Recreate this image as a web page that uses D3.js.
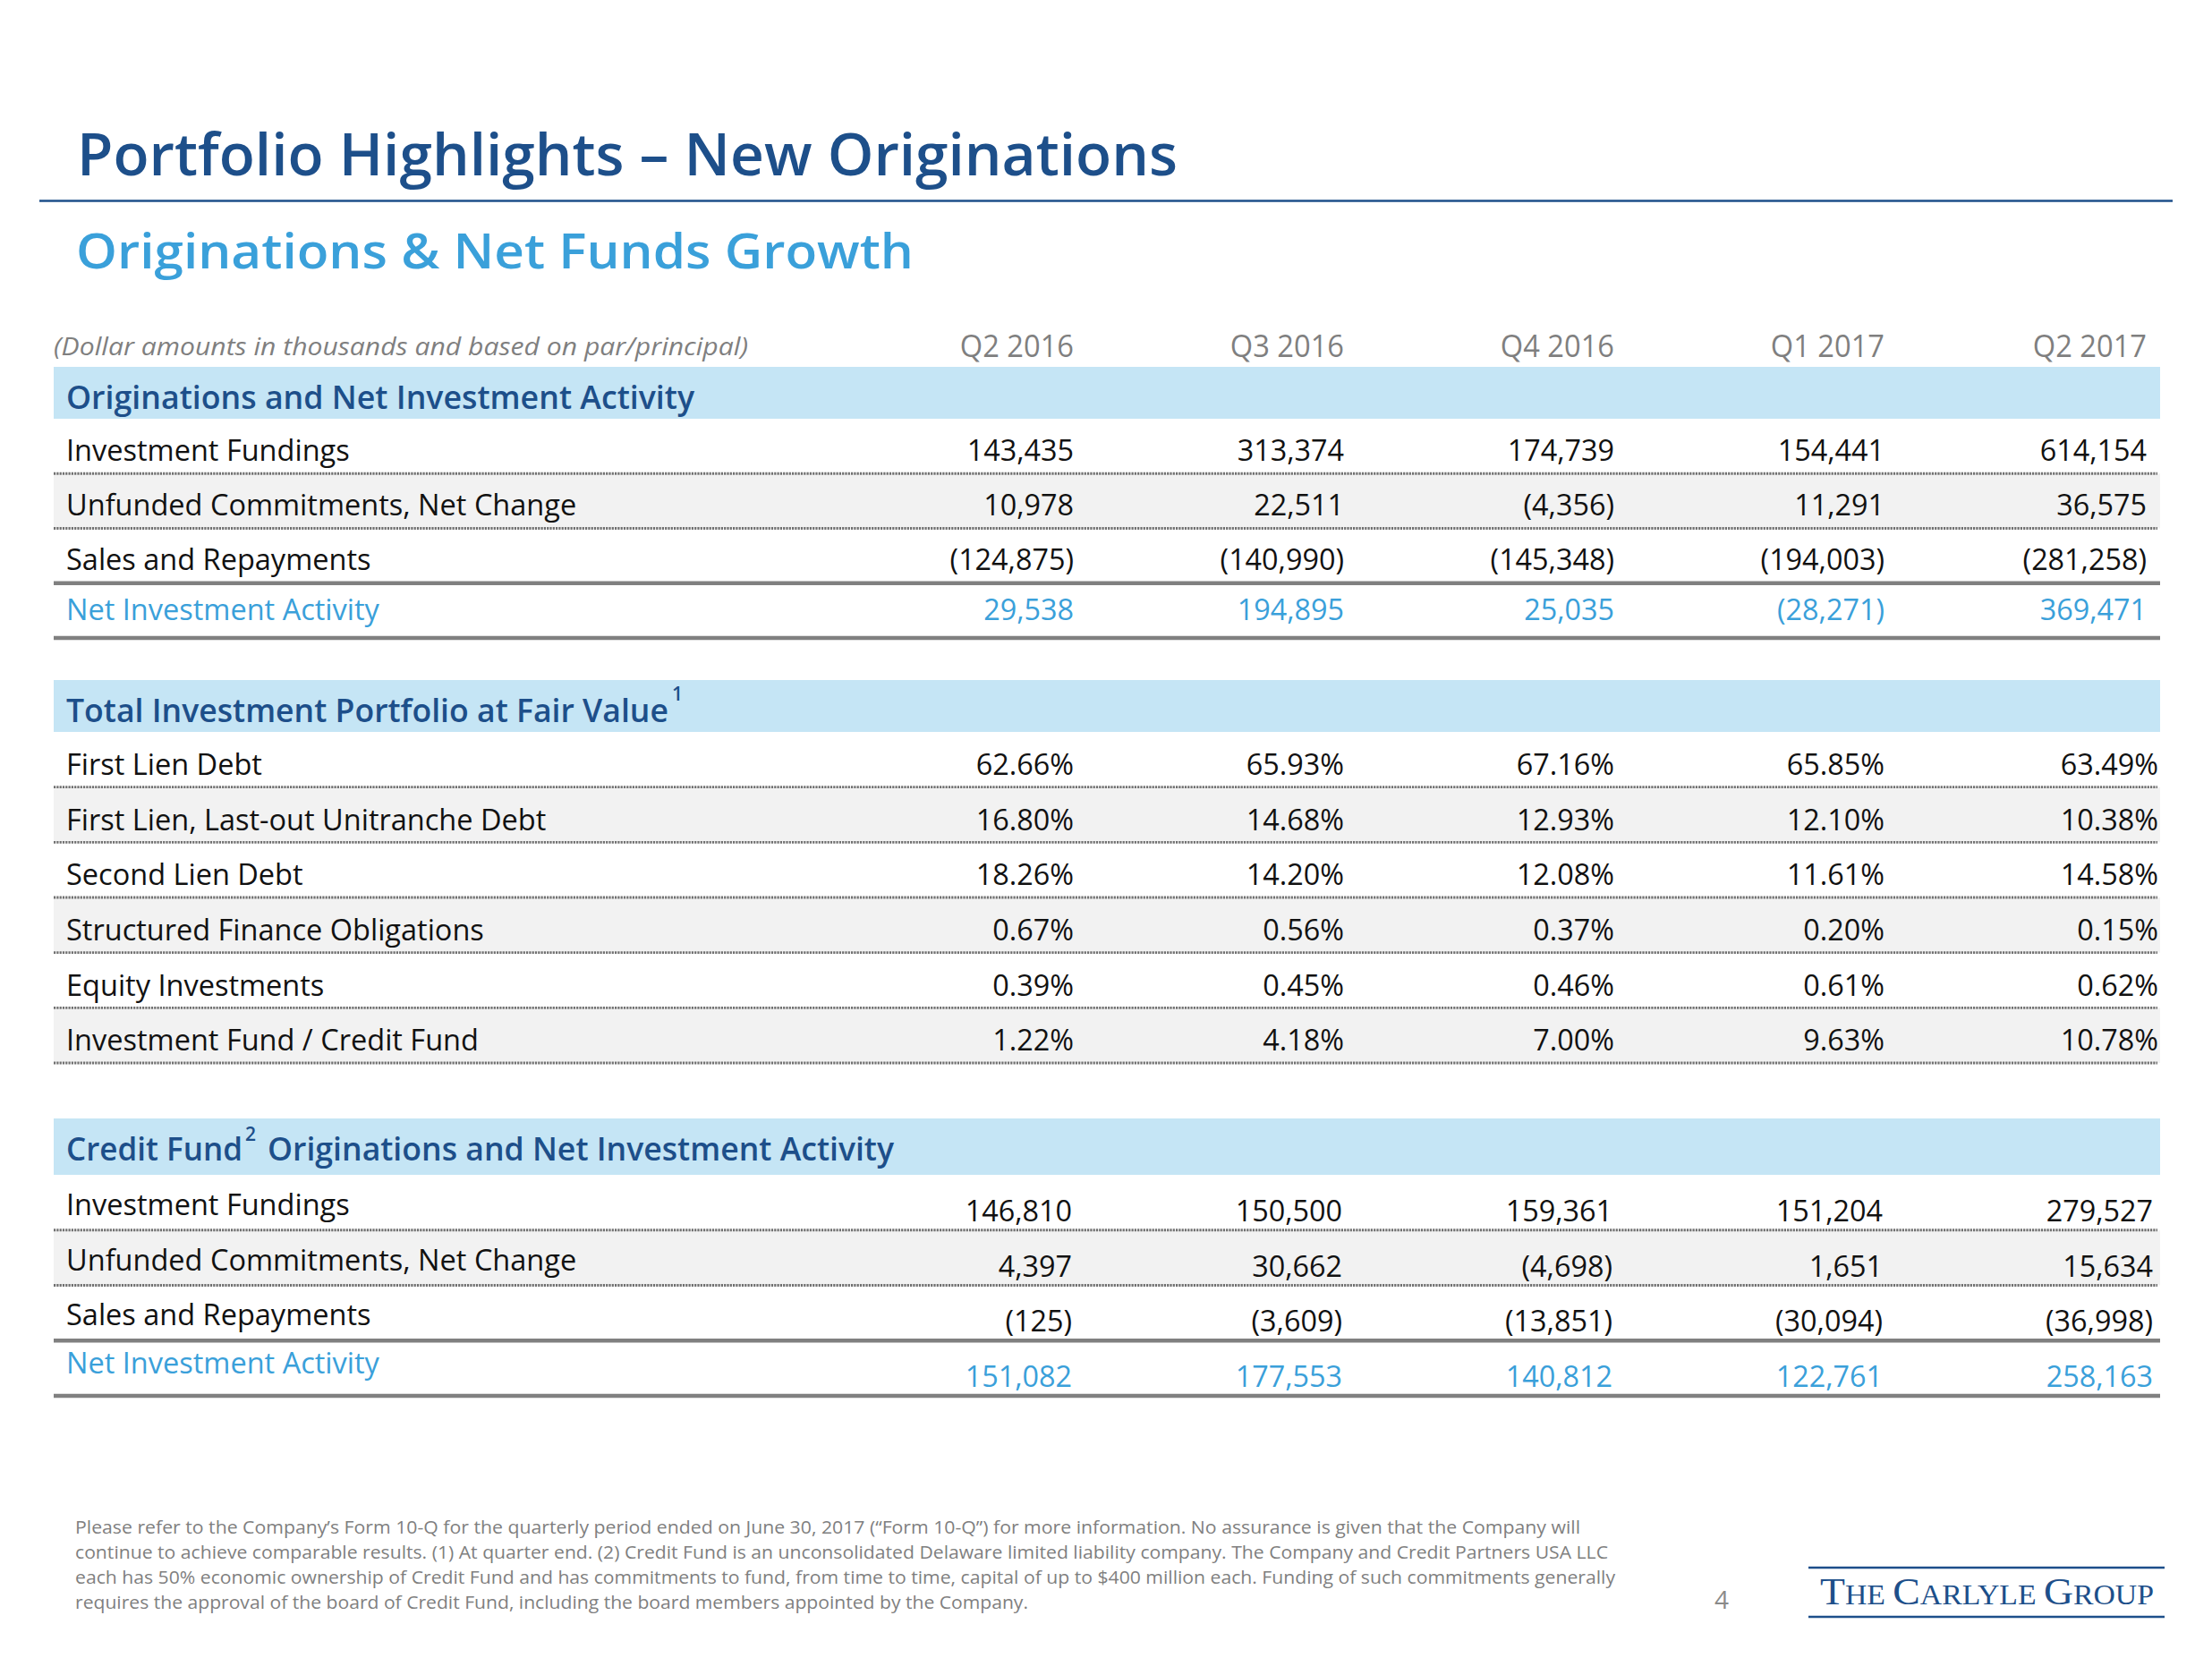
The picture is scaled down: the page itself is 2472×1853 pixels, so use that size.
<!DOCTYPE html>
<html>
<head>
<meta charset="utf-8">
<script src="https://cdn.jsdelivr.net/npm/d3@7"></script>
<style>
  html, body { margin: 0; padding: 0; background: #ffffff; }
  svg { display: block; }
</style>
</head>
<body>
<script>
// ---------------- DATA ----------------
const quarters = ["Q2 2016", "Q3 2016", "Q4 2016", "Q1 2017", "Q2 2017"];

const originationLabels = ["Investment Fundings", "Unfunded Commitments, Net Change", "Sales and Repayments", "Net Investment Activity"];
const investmentFundings = [143435, 313374, 174739, 154441, 614154];
const unfundedCommitments = [10978, 22511, -4356, 11291, 36575];
const salesAndRepayments = [-124875, -140990, -145348, -194003, -281258];
const netInvestmentActivity = [29538, 194895, 25035, -28271, 369471];

const portfolioLabels = ["First Lien Debt", "First Lien, Last-out Unitranche Debt", "Second Lien Debt", "Structured Finance Obligations", "Equity Investments", "Investment Fund / Credit Fund"];
const firstLienDebt = [62.66, 65.93, 67.16, 65.85, 63.49];
const lastOutUnitrancheDebt = [16.80, 14.68, 12.93, 12.10, 10.38];
const secondLienDebt = [18.26, 14.20, 12.08, 11.61, 14.58];
const structuredFinance = [0.67, 0.56, 0.37, 0.20, 0.15];
const equityInvestments = [0.39, 0.45, 0.46, 0.61, 0.62];
const investmentFundCreditFund = [1.22, 4.18, 7.00, 9.63, 10.78];

const creditFundLabels = ["Investment Fundings", "Unfunded Commitments, Net Change", "Sales and Repayments", "Net Investment Activity"];
const cfInvestmentFundings = [146810, 150500, 159361, 151204, 279527];
const cfUnfundedCommitments = [4397, 30662, -4698, 1651, 15634];
const cfSalesAndRepayments = [-125, -3609, -13851, -30094, -36998];
const cfNetInvestmentActivity = [151082, 177553, 140812, 122761, 258163];

const titleText = "Portfolio Highlights \u2013 New Originations";
const subtitleText = "Originations & Net Funds Growth";
const unitsNote = "(Dollar amounts in thousands and based on par/principal)";
const footnoteLines = [
  "Please refer to the Company\u2019s Form 10-Q for the quarterly period ended on June 30, 2017 (\u201cForm 10-Q\u201d) for more information. No assurance is given that the Company will",
  "continue to achieve comparable results. (1) At quarter end. (2) Credit Fund is an unconsolidated Delaware limited liability company. The Company and Credit Partners USA LLC",
  "each has 50% economic ownership of Credit Fund and has commitments to fund, from time to time, capital of up to $400 million each. Funding of such commitments generally",
  "requires the approval of the board of Credit Fund, including the board members appointed by the Company."
];
const pageNumber = "4";

// ---------------- FORMATTERS ----------------
const fmtNum = v => v < 0 ? "(" + d3.format(",")(-v) + ")" : d3.format(",")(v);
const fmtPct = v => d3.format(".2f")(v) + "%";

// ---------------- LAYOUT / STYLE ----------------
const W = 2472, H = 1853;
const FONT = "'Open Sans', 'Noto Sans', sans-serif";
const DARK_BLUE = "#1d4f8a";
const LIGHT_BLUE = "#3aa0da";
const BAND = "#c5e5f5";
const ROW_GRAY = "#f2f2f2";
const RULE_GRAY = "#808080";
const DOT_GRAY = "#707070";
const TEXT_GRAY = "#7f7f7f";
const TABLE_LEFT = 60, TABLE_RIGHT = 2414;

// slight horizontal condensing to mimic the narrower original face
function condense(sel, k) {
  sel.each(function () {
    const w = this.getComputedTextLength();
    d3.select(this).attr("textLength", w * k).attr("lengthAdjust", "spacingAndGlyphs");
  });
}

const svg = d3.select("body").append("svg")
  .attr("width", W).attr("height", H)
  .attr("viewBox", `0 0 ${W} ${H}`);
svg.append("rect").attr("width", W).attr("height", H).attr("fill", "#fff");

// Title
svg.append("text").attr("x", 86).attr("y", 196)
  .attr("font-family", FONT).attr("font-size", 66).attr("font-weight", 600)
  .attr("fill", DARK_BLUE)
  .attr("textLength", 1230).attr("lengthAdjust", "spacingAndGlyphs")
  .text(titleText);
svg.append("line").attr("x1", 44).attr("x2", 2428).attr("y1", 224.5).attr("y2", 224.5)
  .attr("stroke", DARK_BLUE).attr("stroke-width", 2.5);

// Subtitle
svg.append("text").attr("x", 85).attr("y", 300)
  .attr("font-family", FONT).attr("font-size", 54).attr("font-weight", 600)
  .attr("fill", LIGHT_BLUE)
  .attr("textLength", 936).attr("lengthAdjust", "spacingAndGlyphs")
  .text(subtitleText);

// Column scale
const x = d3.scalePoint().domain(quarters).range([1200, 2408]);

// Header row
svg.append("text").attr("x", 60).attr("y", 397)
  .attr("font-family", FONT).attr("font-size", 28).attr("font-style", "italic")
  .attr("fill", TEXT_GRAY)
  .attr("textLength", 776).attr("lengthAdjust", "spacingAndGlyphs")
  .text(unitsNote);
svg.append("g").selectAll("text").data(quarters).join("text")
  .attr("x", (d, i) => x(d) + (i === 4 ? -9 : 0))
  .attr("y", 399)
  .attr("text-anchor", "end")
  .attr("font-family", FONT).attr("font-size", 34)
  .attr("fill", TEXT_GRAY)
  .text(d => d)
  .call(condense, 0.96);

// Sections built from the arrays
const sections = [
  {
    title: [{ t: "Originations and Net Investment Activity", len: 702 }],
    bandTop: 410, bandBottom: 468, bottom: 713,
    labels: originationLabels,
    rows: [investmentFundings, unfundedCommitments, salesAndRepayments, netInvestmentActivity],
    fmt: fmtNum, grayRows: [1], netRow: 3,
    rules: ["dot", "dot", "thick", "thick"],
    labelDy: 16, valueDy: 16, netLabelDy: 11, netValueDy: 11, lastShift: -9, colShift: 0
  },
  {
    title: [{ t: "Total Investment Portfolio at Fair Value", len: 673 }],
    sup: { t: "1", x: 751, dy: -24 },
    bandTop: 760, bandBottom: 818, bottom: 1188,
    labels: portfolioLabels,
    rows: [firstLienDebt, lastOutUnitrancheDebt, secondLienDebt, structuredFinance, equityInvestments, investmentFundCreditFund],
    fmt: fmtPct, grayRows: [1, 3, 5], netRow: -1,
    rules: ["dot", "dot", "dot", "dot", "dot", "dot"],
    labelDy: 17, valueDy: 17, lastShift: 4, colShift: 0
  },
  {
    title: [{ t: "Credit Fund", len: 197 }, { t: "Originations and Net Investment Activity", len: 700, x: 299 }],
    sup: { t: "2", x: 274, dy: -22 },
    bandTop: 1250, bandBottom: 1313, bottom: 1560,
    labels: creditFundLabels,
    rows: [cfInvestmentFundings, cfUnfundedCommitments, cfSalesAndRepayments, cfNetInvestmentActivity],
    fmt: fmtNum, grayRows: [1], netRow: 3,
    rules: ["dot", "dot", "thick", "thick"],
    labelDy: 14, valueDy: 21, netLabelDy: 6, netValueDy: 21, lastShift: 0, colShift: -2
  }
];

sections.forEach(sec => {
  const g = svg.append("g");
  const y = d3.scaleBand().domain(d3.range(sec.labels.length)).range([sec.bandBottom, sec.bottom]).padding(0);

  // band
  g.append("rect").attr("x", TABLE_LEFT).attr("y", sec.bandTop)
    .attr("width", TABLE_RIGHT - TABLE_LEFT).attr("height", sec.bandBottom - sec.bandTop)
    .attr("fill", BAND);
  const bandBase = sec.bandTop + 47;
  sec.title.forEach(p => {
    g.append("text").attr("x", p.x || 74).attr("y", bandBase)
      .attr("font-family", FONT).attr("font-size", 36).attr("font-weight", 600)
      .attr("fill", DARK_BLUE)
      .attr("textLength", p.len).attr("lengthAdjust", "spacingAndGlyphs")
      .text(p.t);
  });
  if (sec.sup) {
    g.append("text").attr("x", sec.sup.x).attr("y", bandBase + sec.sup.dy)
      .attr("font-family", FONT).attr("font-size", 21).attr("font-weight", 600)
      .attr("fill", DARK_BLUE).text(sec.sup.t);
  }

  // row backgrounds
  g.selectAll("rect.rowbg").data(sec.grayRows).join("rect")
    .attr("class", "rowbg")
    .attr("x", TABLE_LEFT).attr("y", i => y(i))
    .attr("width", TABLE_RIGHT - TABLE_LEFT).attr("height", y.bandwidth())
    .attr("fill", ROW_GRAY);

  // rules
  sec.rules.forEach((r, i) => {
    const yy = y(i) + y.bandwidth();
    if (r === "dot") {
      g.append("line").attr("x1", TABLE_LEFT).attr("x2", TABLE_RIGHT - 3)
        .attr("y1", yy).attr("y2", yy)
        .attr("stroke", DOT_GRAY).attr("stroke-width", 2.8)
        .attr("stroke-dasharray", "2.2,1.1");
    } else {
      g.append("line").attr("x1", TABLE_LEFT).attr("x2", TABLE_RIGHT)
        .attr("y1", yy).attr("y2", yy)
        .attr("stroke", RULE_GRAY).attr("stroke-width", 4.5);
    }
  });

  // labels
  g.selectAll("text.lbl").data(sec.labels).join("text")
    .attr("class", "lbl")
    .attr("x", 74)
    .attr("y", (d, i) => y(i) + y.bandwidth() / 2 + (i === sec.netRow ? sec.netLabelDy : sec.labelDy))
    .attr("font-family", FONT).attr("font-size", 33)
    .attr("fill", (d, i) => i === sec.netRow ? LIGHT_BLUE : "#111")
    .text(d => d)
    .call(condense, 0.985);

  // values
  sec.rows.forEach((vals, ri) => {
    g.append("g").selectAll("text").data(vals).join("text")
      .attr("x", (v, ci) => x(quarters[ci]) + sec.colShift + (ci === 4 ? sec.lastShift : 0))
      .attr("y", y(ri) + y.bandwidth() / 2 + (ri === sec.netRow ? sec.netValueDy : sec.valueDy))
      .attr("text-anchor", "end")
      .attr("font-family", FONT).attr("font-size", 33)
      .attr("fill", ri === sec.netRow ? LIGHT_BLUE : "#111")
      .text(v => sec.fmt(v))
      .call(condense, 0.98);
  });
});

// Footnote
const fnWidths = [1682, 1713, 1721, 1065];
svg.append("g").selectAll("text").data(footnoteLines).join("text")
  .attr("x", 84).attr("y", (d, i) => 1714 + i * 28)
  .attr("font-family", FONT).attr("font-size", 20)
  .attr("fill", TEXT_GRAY)
  .attr("textLength", (d, i) => fnWidths[i]).attr("lengthAdjust", "spacingAndGlyphs")
  .text(d => d);

// Page number
svg.append("text").attr("x", 1916).attr("y", 1798)
  .attr("font-family", FONT).attr("font-size", 28).attr("fill", "#8a8a8a")
  .text(pageNumber);

// Logo
const logo = svg.append("g");
logo.append("line").attr("x1", 2021).attr("x2", 2419).attr("y1", 1752).attr("y2", 1752)
  .attr("stroke", DARK_BLUE).attr("stroke-width", 2.5);
logo.append("line").attr("x1", 2021).attr("x2", 2419).attr("y1", 1807).attr("y2", 1807)
  .attr("stroke", DARK_BLUE).attr("stroke-width", 2.5);
const lt = logo.append("text").attr("x", 2034).attr("y", 1793)
  .attr("font-family", "'Liberation Serif', 'DejaVu Serif', serif")
  .attr("fill", DARK_BLUE)
  .attr("textLength", 373).attr("lengthAdjust", "spacingAndGlyphs");
[["T", 42], ["HE ", 31], ["C", 42], ["ARLYLE ", 31], ["G", 42], ["ROUP", 31]].forEach(([t, s]) => {
  lt.append("tspan").attr("font-size", s).text(t);
});
</script>
</body>
</html>
